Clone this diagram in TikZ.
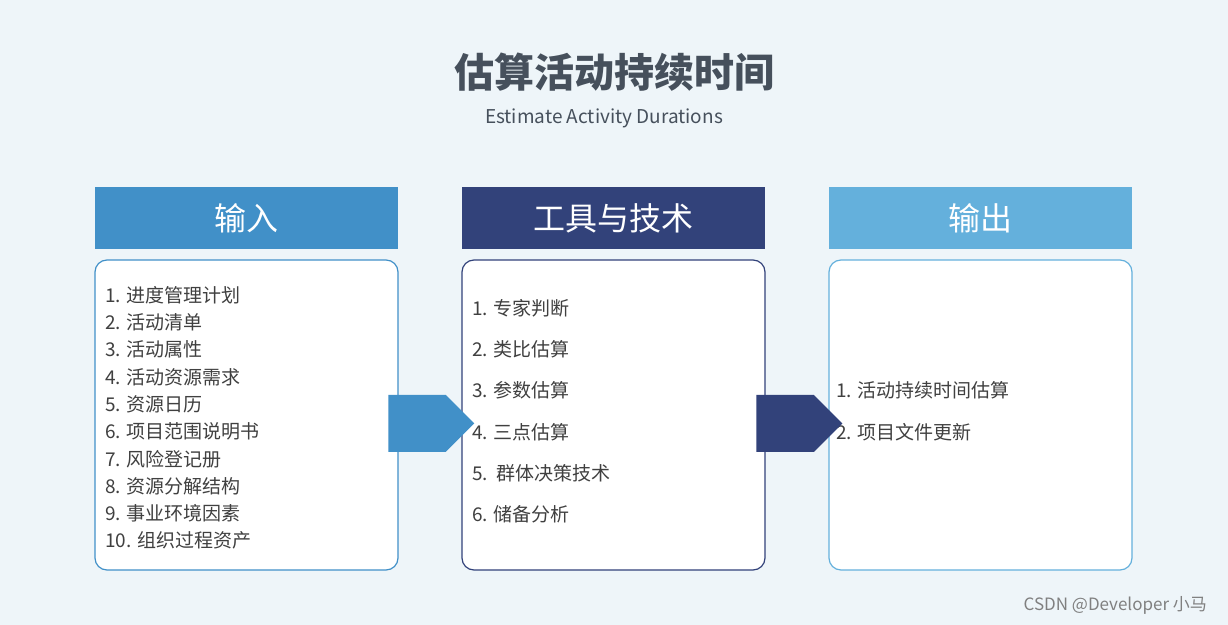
\documentclass[tikz,border=0pt]{standalone}
\usepackage{fontspec}
\setmainfont{Noto Sans CJK SC}
\usetikzlibrary{positioning, shapes.arrows}
\definecolor{bgc}{HTML}{EEF5F9}
\definecolor{titlec}{HTML}{46505C}
\definecolor{textc}{HTML}{404040}
\definecolor{inc}{HTML}{4190C8}
\definecolor{toolc}{HTML}{32427A}
\definecolor{outc}{HTML}{64B0DC}
\tikzset{
  head/.style={fill=#1, text=white, minimum width=151.5pt, minimum height=31pt, inner sep=0pt, font=\fontsize{16}{18}\selectfont},
  body/.style={draw=#1, fill=white, rounded corners=6pt, minimum width=151.5pt, minimum height=155pt, line width=0.6pt},
  item/.style={text=textc, anchor=west, font=\fontsize{9.5}{11}\selectfont, inner sep=0pt},
  flow/.style={single arrow, fill=#1, minimum height=43pt, minimum width=28.5pt, single arrow head extend=0pt, inner sep=0pt, shape border uses incircle=false, single arrow tip angle=90}
}
\begin{document}
\begin{tikzpicture}[x=0.5pt,y=-0.5pt]
\fill[bgc] (0,0) rectangle (1228,625);
\useasboundingbox (0,0) rectangle (1228,625);

% Titel
\node[text=titlec, font=\bfseries\fontsize{20}{24}\selectfont] (title) at (614,72) {估算活动持续时间};
\node[text=titlec, font=\fontsize{9.5}{11}\selectfont] (subtitle) at (604,118) {Estimate Activity Durations};

% Spalten
\node[head=inc] (inhead) at (246.5,218) {输入};
\node[head=toolc] (toolhead) at (613.5,218) {工具与技术};
\node[head=outc] (outhead) at (980.5,218) {输出};
\node[body=inc] (inbody) at (246.5,415) {};
\node[body=toolc] (toolbody) at (613.5,415) {};
\node[body=outc] (outbody) at (980.5,415) {};

% Eingaben
\foreach \t [count=\i] in {1. 进度管理计划, 2. 活动清单, 3. 活动属性, 4. 活动资源需求, 5. 资源日历, 6. 项目范围说明书, 7. 风险登记册, 8. 资源分解结构, 9. 事业环境因素, 10. 组织过程资产}
  \node[item] (in\i) at (105,{295+27.3*(\i-1)}) {\t};

% Werkzeuge
\foreach \t [count=\i] in {1. 专家判断, 2. 类比估算, 3. 参数估算, 4. 三点估算, 5.\ \ 群体决策技术, 6. 储备分析}
  \node[item] (tool\i) at (472,{308+41.3*(\i-1)}) {\t};

% Ausgaben
\node[item] (out1) at (836,390) {1. 活动持续时间估算};
\node[item] (out2) at (836,432) {2. 项目文件更新};

% Pfeile
\node[flow=inc] (arrow1) at (417,423.5) {};
\node[flow=toolc] (arrow2) at (785,423.5) {};

\node[text=gray, font=\fontsize{8.5}{10}\selectfont, anchor=east] (mark) at (1214,605) {CSDN @Developer 小马};
\end{tikzpicture}
\end{document}
